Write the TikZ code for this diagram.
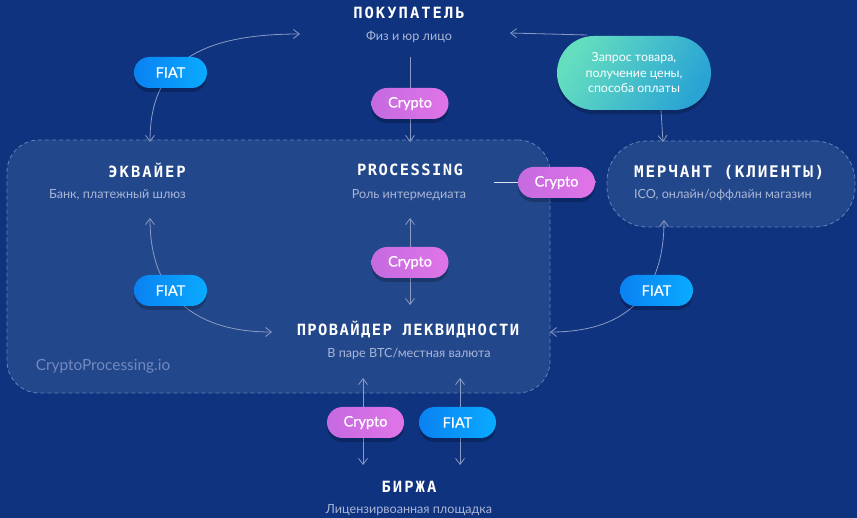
\documentclass[tikz,border=0pt]{standalone}
\usepackage{fontspec}
\setmainfont{Lato}
\newfontfamily\titlefont[LetterSpace=13]{DejaVu Sans Mono}
\newfontfamily\titlefontn[LetterSpace=9]{DejaVu Sans Mono}
\newfontfamily\titlefontw[LetterSpace=11]{DejaVu Sans Mono}
\newfontfamily\pillfont[FakeBold=0.7]{Lato}
\usetikzlibrary{arrows.meta,shadows}
\definecolor{bg}{HTML}{0F337F}
\definecolor{boxfill}{HTML}{23478B}
\definecolor{boxline}{HTML}{6582BA}
\definecolor{sub}{HTML}{A9B6D6}
\definecolor{lnk}{HTML}{8A9CC6}
\definecolor{lnkw}{HTML}{DCE4F4}
\definecolor{fiatL}{HTML}{0A82F2}
\definecolor{fiatR}{HTML}{0AAAFF}
\definecolor{cryL}{HTML}{C56AE0}
\definecolor{cryR}{HTML}{E074E8}
\definecolor{tealL}{HTML}{64DEBF}
\definecolor{tealR}{HTML}{2AA4D4}
\definecolor{brand}{HTML}{7289C0}
\begin{document}
\begin{tikzpicture}[x=1pt,y=-1pt,
  title/.style={font=\titlefont\bfseries\fontsize{15.5}{18}\selectfont, text=white, inner sep=0pt},
  titlen/.style={title, font=\titlefontn\bfseries\fontsize{15.5}{18}\selectfont},
  titlew/.style={title, font=\titlefontw\bfseries\fontsize{16}{18}\selectfont},
  subtitle/.style={font=\fontsize{12.6}{15}\selectfont, text=sub, inner sep=0pt},
  pill/.style={rounded corners=15.5pt, minimum width=73pt, minimum height=31pt, inner sep=0pt,
    text=white, font=\pillfont\fontsize{14.5}{16}\selectfont,
    drop shadow={opacity=0.22, shadow xshift=0pt, shadow yshift=-4pt, fill=black}},
  fiat/.style={pill, left color=fiatL, right color=fiatR},
  crypto/.style={pill, minimum width=77pt, left color=cryL, right color=cryR},
  link/.style={draw=lnk, line width=0.8pt, -{Straight Barb[length=6pt,width=9pt]}},
  both/.style={draw=lnk, line width=0.8pt, {Straight Barb[length=6pt,width=9pt]}-{Straight Barb[length=6pt,width=9pt]}},
  zone/.style={draw=boxline, fill=boxfill, dash pattern=on 4pt off 3pt, line width=0.8pt, inner sep=0pt}]
\fill[bg] (0,0) rectangle (857,518);
\useasboundingbox (0,0) rectangle (857,518);

% zones
\node[zone, rounded corners=32pt, minimum width=543pt, minimum height=253pt] (core) at (278.5,266.5) {};
\node[zone, rounded corners=40pt, minimum width=248pt, minimum height=86pt] (merchbox) at (731,184) {};

% connector end points
\coordinate (b1) at (300,34);
\coordinate (a1) at (150,142);
\coordinate (p0) at (410,57);
\coordinate (p1) at (410,142);
\coordinate (a2) at (150,218);
\coordinate (l1) at (272,332);
\coordinate (p2) at (410,218);
\coordinate (l2) at (410,305);
\coordinate (p3) at (494,182);
\coordinate (m1) at (596,182);
\coordinate (m2) at (664,220);
\coordinate (l3) at (550,332);
\coordinate (q0) at (587,35);
\coordinate (b2) at (510,33);
\coordinate (q1) at (661,110);
\coordinate (m0) at (663,142);
\coordinate (l4) at (363,378);
\coordinate (e1) at (363,465);
\coordinate (l5) at (460,378);
\coordinate (e2) at (460,465);

% connectors
\draw[both] (a1) .. controls (150,70) and (190,34) .. (b1);
\draw[link] (p0) -- (p1);
\draw[both] (a2) .. controls (150,300) and (200,332) .. (l1);
\draw[both] (p2) -- (l2);
\draw[link, draw=lnkw] (p3) -- (m1);
\draw[both] (m2) .. controls (664,300) and (620,332) .. (l3);
\draw[link] (q0) -- (b2);
\draw[link] (q1) -- (m0);
\draw[both] (l4) -- (e1);
\draw[both] (l5) -- (e2);

% pills
\node[fiat] (f1) at (170.5,72.5) {FIAT};
\node[crypto] (c1) at (410,103.5) {Crypto};
\node[crypto] (c2) at (556.5,182.5) {Crypto};
\node[crypto] (c3) at (410,262.5) {Crypto};
\node[fiat] (f2) at (170.5,290.5) {FIAT};
\node[fiat] (f3) at (656.5,290.5) {FIAT};
\node[crypto] (c4) at (365.5,422.5) {Crypto};
\node[fiat, minimum width=77pt] (f4) at (457.5,422.5) {FIAT};

% bubble
\node[rounded corners=37pt, minimum width=154pt, minimum height=74pt, inner sep=0pt,
  left color=tealL, right color=tealR, shading angle=60, text=white, align=center,
  font=\fontsize{12.4}{15.5}\selectfont,
  drop shadow={opacity=0.2, shadow xshift=0pt, shadow yshift=-4pt, fill=black}] (bubble) at (634,73)
  {Запрос товара,\\получение цены,\\способа оплаты};

% titles
\node[title] (buyer) at (409,13) {ПОКУПАТЕЛЬ};
\node[subtitle] (buyersub) at (409,37) {Физ и юр лицо};
\node[title, anchor=east] (acq) at (186,170) {ЭКВАЙЕР};
\node[subtitle, anchor=east] (acqsub) at (186,195) {Банк, платежный шлюз};
\node[titlen] (proc) at (410,170) {PROCESSING};
\node[subtitle] (procsub) at (409,195) {Роль интермедиата};
\node[titlew, anchor=west] (merch) at (634,172) {МЕРЧАНТ (КЛИЕНТЫ)};
\node[subtitle, anchor=west] (merchsub) at (634,195) {ICO, онлайн/оффлайн магазин};
\node[titlen] (liq) at (408,330) {ПРОВАЙДЕР ЛЕКВИДНОСТИ};
\node[subtitle] (liqsub) at (409,354) {В паре BTC/местная валюта};
\node[title] (exch) at (409,487) {БИРЖА};
\node[subtitle] (exchsub) at (409,510) {Лицензирвоанная площадка};
\node[inner sep=0pt, text=brand, font=\fontsize{15.4}{17}\selectfont] (brandname) at (103,366) {CryptoProcessing.io};
\end{tikzpicture}
\end{document}
